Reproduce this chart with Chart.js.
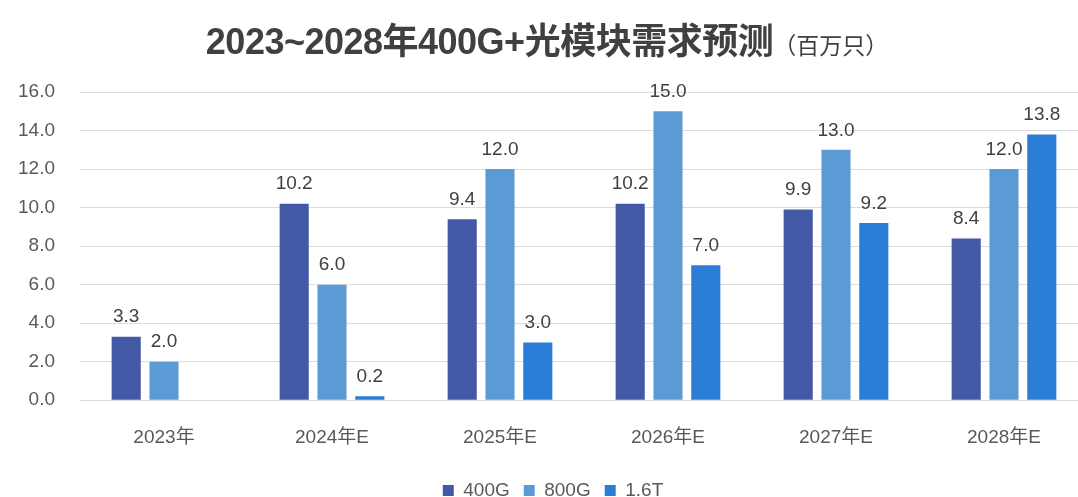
<!DOCTYPE html>
<html>
<head>
<meta charset="utf-8">
<script src="https://cdn.jsdelivr.net/npm/chart.js@4.4.1/dist/chart.umd.min.js"></script>
<style>
  body { margin: 0; background: #fff; overflow: hidden; width: 1078px; height: 497px; position: relative; }
  #title { position: absolute; top: 12px; left: 0; width: 1094px; text-align: center; z-index: 2;
    font-family: "Liberation Sans", "Noto Sans CJK SC", sans-serif; color: #404040; white-space: nowrap; }
  #title .main { font-size: 36px; font-weight: bold; letter-spacing: -0.5px; }
  #title .unit { font-size: 23px; font-weight: normal; font-family: "Noto Sans CJK SC", sans-serif; }
  #wrap { position: absolute; left: 0; top: 0; width: 1092px; height: 510px; }
</style>
</head>
<body>
<div id="title"><span class="main">2023~2028年400G+光模块需求预测</span><span class="unit">（百万只）</span></div>
<div id="wrap"><canvas id="chart"></canvas></div>
<script>
var years = ["2023年", "2024年E", "2025年E", "2026年E", "2027年E", "2028年E"];
var g400 = [3.3, 10.2, 9.4, 10.2, 9.9, 8.4];
var g800 = [2.0, 6.0, 12.0, 15.0, 13.0, 12.0];
var t16 = [null, 0.2, 3.0, 7.0, 9.2, 13.8];
var yTicks = [0, 2, 4, 6, 8, 10, 12, 14, 16];

var font = "'Liberation Sans', 'Noto Sans CJK SC', sans-serif";

// draws the value above each bar
var barLabels = {
  id: "barLabels",
  afterDatasetsDraw: function (chart) {
    var ctx = chart.ctx;
    ctx.save();
    ctx.font = "19px " + font;
    ctx.fillStyle = "#404040";
    ctx.textAlign = "center";
    ctx.textBaseline = "bottom";
    chart.data.datasets.forEach(function (ds, i) {
      var meta = chart.getDatasetMeta(i);
      meta.data.forEach(function (bar, j) {
        var v = ds.data[j];
        if (v === null) return;
        ctx.fillText(v.toFixed(1), bar.x, bar.y - 10);
      });
    });
    ctx.restore();
  }
};

new Chart(document.getElementById("chart"), {
  type: "bar",
  data: {
    labels: years,
    datasets: [
      { label: "400G", data: g400, backgroundColor: "#4459a6" },
      { label: "800G", data: g800, backgroundColor: "#5b9bd5" },
      { label: "1.6T", data: t16, backgroundColor: "#2b7ed6" }
    ]
  },
  options: {
    responsive: true,
    maintainAspectRatio: false,
    animation: false,
    layout: { padding: { top: 92, left: 18, right: 4, bottom: 0 } },
    datasets: { bar: { categoryPercentage: 0.675, barPercentage: 0.77 } },
    plugins: {
      legend: {
        position: "bottom",
        labels: { font: { family: font, size: 19 }, color: "#595959", boxWidth: 11, boxHeight: 11, padding: 14 }
      },
      tooltip: { enabled: false }
    },
    scales: {
      x: {
        grid: { display: false },
        border: { color: "#d9d9d9" },
        ticks: { font: { family: font, size: 19 }, color: "#595959", padding: 18 }
      },
      y: {
        min: 0, max: 16,
        afterBuildTicks: function (axis) { axis.ticks = yTicks.map(function (v) { return { value: v }; }); },
        afterFit: function (axis) { axis.width = 62; },
        grid: { color: "#dcdcdc", drawTicks: false },
        border: { display: false },
        ticks: {
          font: { family: font, size: 19 }, color: "#595959", padding: 25,
          callback: function (v) { return v.toFixed(1); }
        }
      }
    }
  },
  plugins: [barLabels]
});
</script>
</body>
</html>
